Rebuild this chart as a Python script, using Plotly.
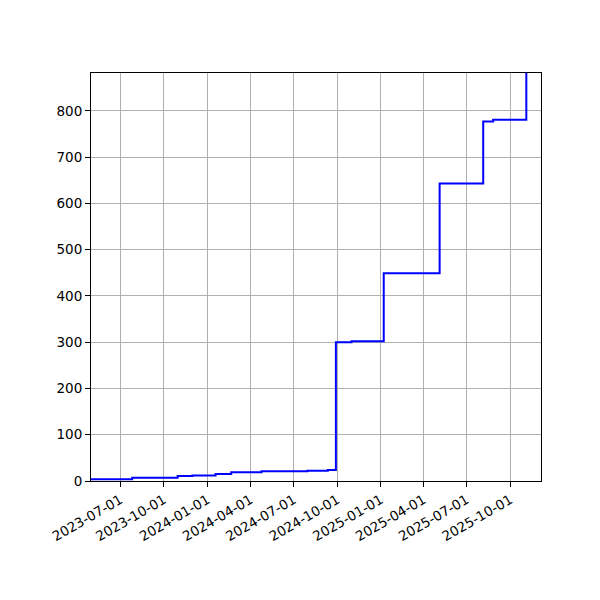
import plotly.graph_objects as go

# Cumulative count
dates = [
    "2023-04-30", "2023-07-26", "2023-10-30", "2023-11-30", "2024-01-18",
    "2024-02-20", "2024-04-24", "2024-07-30", "2024-09-11", "2024-09-28",
    "2024-10-31", "2025-01-07", "2025-05-05", "2025-08-05", "2025-08-26",
    "2025-11-04",
]
counts = [4, 7, 11, 12, 15, 19, 21, 22, 24, 300, 302, 449, 643, 777, 781, 882]

tick_dates = ["2023-07-01", "2023-10-01", "2024-01-01", "2024-04-01", "2024-07-01",
              "2024-10-01", "2025-01-01", "2025-04-01", "2025-07-01", "2025-10-01"]

fig = go.Figure()

fig.add_trace(go.Scatter(
    x=dates,
    y=counts,
    mode="lines",
    line=dict(color="blue", width=2, shape="hv"),
    showlegend=False,
))

axis_style = dict(
    showline=True,
    linecolor="black",
    linewidth=1,
    mirror=True,
    ticks="outside",
    ticklen=5,
    tickcolor="black",
    showgrid=True,
    gridcolor="#b0b0b0",
    gridwidth=1,
    zeroline=False,
)

# page body adds ~8px, so margins are nudged to land the axes where the reference has them
fig.update_layout(
    width=600,
    height=600,
    margin=dict(l=83, r=67, t=65, b=127),
    plot_bgcolor="white",
    paper_bgcolor="white",
    font=dict(family="DejaVu Sans", size=13.5, color="black"),
    xaxis=dict(
        type="date",
        range=["2023-04-30", "2025-12-05"],
        tickvals=tick_dates,
        ticktext=tick_dates,
        tickangle=-30,
        **axis_style,
    ),
    yaxis=dict(
        range=[0, 882],
        tickvals=list(range(0, 900, 100)),
        **axis_style,
    ),
)

fig.write_html("out.html")
